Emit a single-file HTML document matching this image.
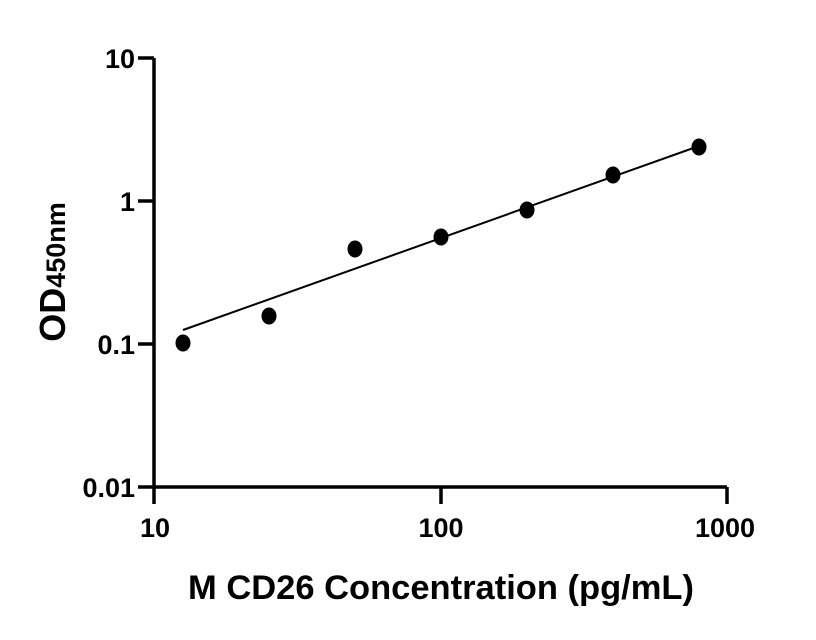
<!DOCTYPE html>
<html><head><meta charset="utf-8"><style>
html,body{margin:0;padding:0;background:#fff;}
svg{display:block;}
text{font-family:"Liberation Sans",sans-serif;font-weight:bold;fill:#000;}
</style></head><body>
<svg width="816" height="640" viewBox="0 0 816 640">
<g stroke="#000" stroke-width="3.5" fill="none">
<line x1="154" y1="58" x2="154" y2="504"/>
<line x1="138" y1="487" x2="727" y2="487"/>
<line x1="138" y1="58" x2="154" y2="58"/>
<line x1="138" y1="201" x2="154" y2="201"/>
<line x1="138" y1="344" x2="154" y2="344"/>
<line x1="441" y1="487" x2="441" y2="504"/>
<line x1="727" y1="487" x2="727" y2="504"/>
</g>
<line x1="183" y1="330" x2="699" y2="146" stroke="#000" stroke-width="2"/>
<g fill="#000">
<ellipse cx="183" cy="343" rx="7.5" ry="8.5"/>
<ellipse cx="269" cy="316" rx="7.5" ry="8.5"/>
<ellipse cx="355" cy="249" rx="7.5" ry="8.5"/>
<ellipse cx="441" cy="237" rx="7.5" ry="8.5"/>
<ellipse cx="527" cy="210" rx="7.5" ry="8.5"/>
<ellipse cx="613" cy="175" rx="7.5" ry="8.5"/>
<ellipse cx="699" cy="147" rx="7.5" ry="8.5"/>
</g>
<g font-size="27" text-anchor="end">
<text x="135" y="68">10</text>
<text x="135" y="211">1</text>
<text x="135" y="354">0.1</text>
<text x="135" y="497">0.01</text>
</g>
<g font-size="27" text-anchor="middle">
<text x="155" y="537">10</text>
<text x="441" y="537">100</text>
<text x="725" y="537">1000</text>
</g>
<text x="441" y="599" font-size="34.5" text-anchor="middle">M CD26 Concentration (pg/mL)</text>
<text transform="translate(65,272) rotate(-90)" font-size="36" text-anchor="middle">OD<tspan font-size="27">450nm</tspan></text>
</svg>
</body></html>
